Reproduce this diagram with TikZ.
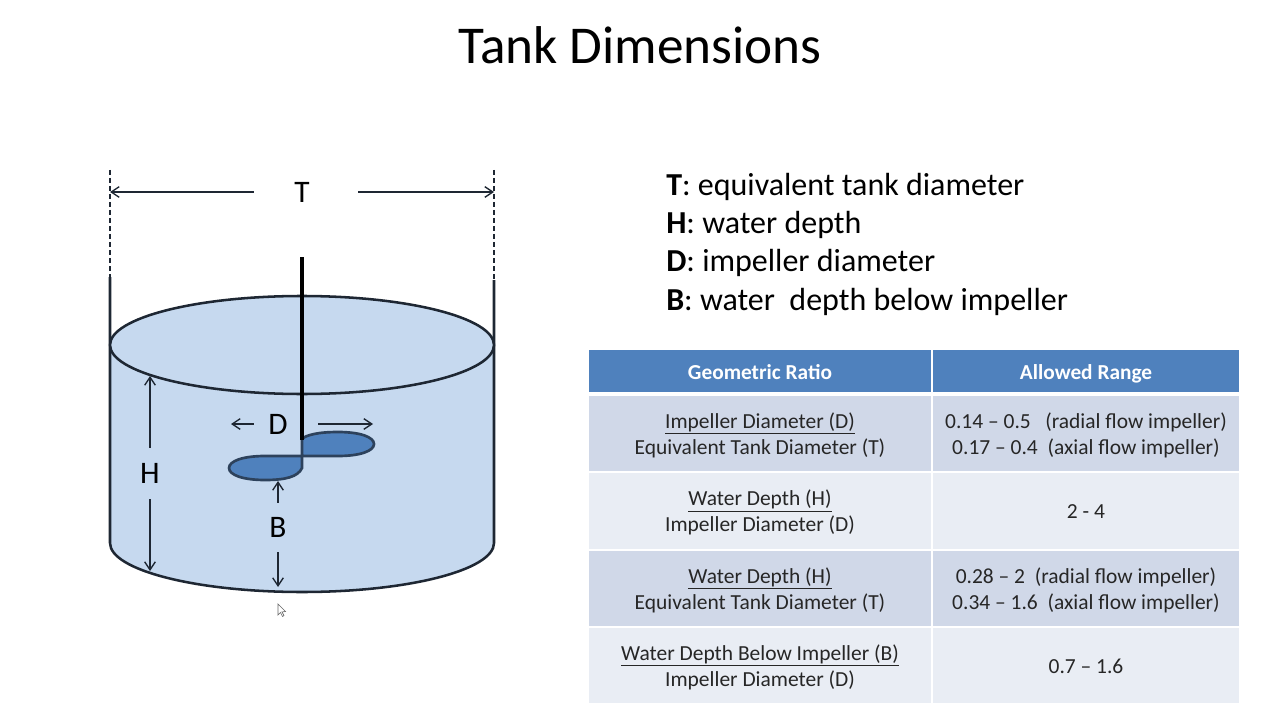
\documentclass[tikz,border=0pt]{standalone}
\usepackage{fontspec}
\setmainfont{Carlito}
\usetikzlibrary{arrows.meta,matrix}
\definecolor{headblue}{HTML}{4F81BD}
\definecolor{rowdark}{HTML}{D0D8E8}
\definecolor{rowlight}{HTML}{E9EDF4}
\definecolor{water}{HTML}{C6D9EF}
\definecolor{ink}{HTML}{1E2733}
\definecolor{cellink}{HTML}{262626}

\begin{document}
\begin{tikzpicture}[x=0.75pt,y=-0.75pt,>={Straight Barb[length=6pt,width=8pt]}]
\tikzstyle{tank} = [draw=ink, line width=1.9pt]
\tikzstyle{blade} = [draw=ink!70!headblue, line width=2pt, fill=headblue]
\tikzstyle{dim} = [draw=ink, line width=1pt, ->]
\tikzstyle{guide} = [draw=ink, line width=1pt, dash pattern=on 3.5pt off 2.5pt]
\tikzstyle{label} = [font=\fontsize{23.5}{26}\selectfont, inner sep=0pt, text=black]
\tikzstyle{legend} = [font=\fontsize{24}{27}\selectfont, anchor=base west, inner sep=0pt, text=black]
\tikzstyle{head} = [anchor=center, fill=headblue, text=white, font=\fontsize{16}{19}\bfseries\selectfont,
minimum height=31.5pt, inner sep=0pt, align=center, execute at begin node={\rule[-4.5pt]{0pt}{21.5pt}}]
\tikzstyle{cell} = [anchor=center, text=cellink, font=\fontsize{16.1}{19.5}\selectfont,
minimum height=56.5pt, inner sep=0pt, align=center, execute at begin node={\rule[-3.9pt]{0pt}{18.9pt}}]
\tikzstyle{twoline} = [execute at begin node={\rule{0pt}{35pt}}]
\tikzstyle{colA} = [minimum width=256.5pt]
\tikzstyle{colB} = [minimum width=229.5pt]
\useasboundingbox (0,0) rectangle (1280,720);

\node [font=\fontsize{39.9}{44}\selectfont, inner sep=0pt] (title) at (640,45) {Tank Dimensions};

% tank body
\fill [water] (110,345) -- (110,543) .. controls (110,570) and (196,592) .. (302,592)
  .. controls (408,592) and (494,570) .. (494,543) -- (494,345) -- cycle;
\draw [tank] (110,277) -- (110,543) .. controls (110,570) and (196,592) .. (302,592)
  .. controls (408,592) and (494,570) .. (494,543) -- (494,280);
\draw [tank, fill=water] (302,345) ellipse [x radius=192, y radius=49];

% impeller
\draw [blade] (302,456) -- (302,439) .. controls (306,435) and (318,432) .. (338,432)
  .. controls (360,432) and (374,437) .. (374,444) .. controls (374,451) and (360,456) .. (338,456) -- cycle;
\draw [blade] (302,456) -- (265,456) .. controls (243,456) and (229,461) .. (229,468)
  .. controls (229,475) and (243,480) .. (265,480) .. controls (285,480) and (298,477) .. (302,468) -- cycle;
\draw [line width=2.3pt, draw=black] (302,257) -- (302,440);

% labels
\node [label, minimum width=78pt] (T) at (302,192) {T};
\node [label, minimum height=38.25pt] (H) at (150,473.5) {H};
\node [label, minimum width=36pt] (D) at (278,424) {D};
\node [label, minimum height=36.75pt] (B) at (278,527.5) {B};

\coordinate (Tleft) at (110,192);
\coordinate (Tright) at (494,192);
\coordinate (Htop) at (150,376);
\coordinate (Hbot) at (150,571);
\coordinate (Dleft) at (231,424);
\coordinate (Dright) at (373,424);
\coordinate (Btop) at (278,481);
\coordinate (Bbot) at (278,587);
\coordinate (guideAtop) at (110,170);
\coordinate (guideAbot) at (110,277);
\coordinate (guideBtop) at (494,170);
\coordinate (guideBbot) at (494,280);

\path [guide] (guideAtop) -- (guideAbot);
\path [guide] (guideBtop) -- (guideBbot);
\path [dim] ([xshift=3pt]T.west) -- (Tleft);
\path [dim] ([xshift=3pt]T.east) -- (Tright);
\path [dim] (H.north) -- (Htop);
\path [dim] (H.south) -- (Hbot);
\path [dim] (D.west) -- (Dleft);
\path [dim] ([xshift=12pt]D.east) -- (Dright);
\path [dim] (B.north) -- (Btop);
\path [dim] (B.south) -- (Bbot);

% pointer
\draw [draw=black!60, fill=white, line width=0.5pt] (278,604) -- (278,615) -- (280.5,612.5)
  -- (282.5,616.5) -- (284,615.5) -- (282,612) -- (285.5,611.5) -- cycle;

% legend
\node [legend] (keyT) at (666,195.5) {\textbf{T}: equivalent tank diameter};
\node [legend] (keyH) at (666,233.5) {\textbf{H}: water depth};
\node [legend] (keyD) at (666,271.5) {\textbf{D}: impeller diameter};
\node [legend] (keyB) at (666,310) {\textbf{B}: water\ \ depth below impeller};

% table
\matrix [anchor=north west, inner sep=0pt, outer sep=0pt, column sep=1.5pt] (ratios) at (589,350)
{
% row 1
\node [head, colA] (h1) {Geometric Ratio}; & \node [head, colB] (h2) {Allowed Range}; \\[3pt]
% row 2
\node [cell, twoline, colA, fill=rowdark] (a1) {\underline{Impeller Diameter (D)}\\Equivalent Tank Diameter (T)}; &
\node [cell, twoline, colB, fill=rowdark] (b1) {0.14 -- 0.5\ \ \ (radial flow impeller)\\0.17 -- 0.4\ \ (axial flow impeller)}; \\[1.5pt]
% row 3
\node [cell, twoline, colA, fill=rowlight] (a2) {\underline{Water Depth (H)}\\Impeller Diameter (D)}; &
\node [cell, colB, fill=rowlight] (b2) {2 - 4}; \\[1.5pt]
% row 4
\node [cell, twoline, colA, fill=rowdark] (a3) {\underline{Water Depth (H)}\\Equivalent Tank Diameter (T)}; &
\node [cell, twoline, colB, fill=rowdark] (b3) {0.28 -- 2\ \ (radial flow impeller)\\0.34 -- 1.6\ \ (axial flow impeller)}; \\[1.5pt]
% row 5
\node [cell, twoline, colA, fill=rowlight] (a4) {\underline{Water Depth Below Impeller (B)}\\Impeller Diameter (D)}; &
\node [cell, colB, fill=rowlight] (b4) {0.7 -- 1.6}; \\
};

\end{tikzpicture}
\end{document}
